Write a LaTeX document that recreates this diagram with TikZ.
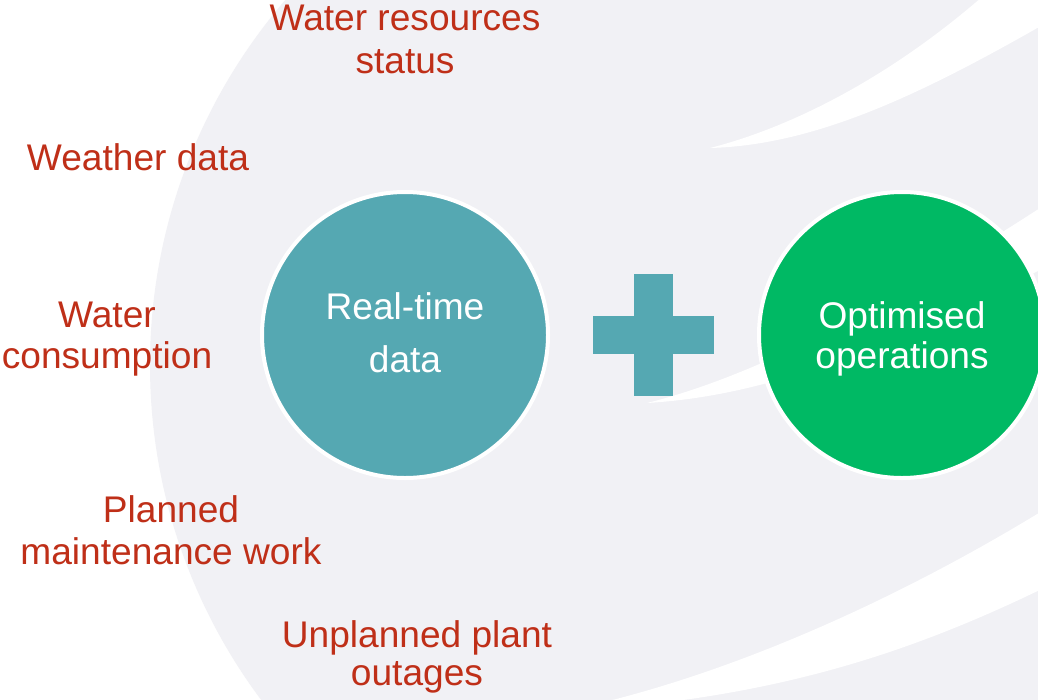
\documentclass[tikz,border=0pt]{standalone}
\usepackage{fontspec}
\setmainfont{Liberation Sans}
\definecolor{bggrey}{HTML}{F1F1F5}
\definecolor{lblred}{HTML}{BF2F18}
\definecolor{tealc}{HTML}{55A8B2}
\definecolor{greenc}{HTML}{00B964}
\begin{document}
\begin{tikzpicture}[x=1pt,y=-1pt,
  lbl/.style={inner sep=0pt, anchor=base, text=lblred, font=\fontsize{37.1}{43}\selectfont},
  inlbl/.style={inner sep=0pt, anchor=base, text=white, font=\fontsize{37.1}{43}\selectfont},
  bigdisc/.style={circle, draw=white, line width=4pt, minimum size=286pt, inner sep=0pt},
  swoosh/.style={fill=white, draw=none}]
\useasboundingbox (0,0) rectangle (1038,699);
\begin{scope}
\clip (0,0) rectangle (1038,699);
\fill[white] (0,0) rectangle (1038,699);
\fill[bggrey] (710,365) circle (560);
% white swooshes
\path[swoosh] (710,148) .. controls (800,125) and (900,70) .. (990,-10) -- (1060,-10) -- (1060,15) .. controls (930,90) and (820,145) .. (710,148) -- cycle;
\path[swoosh] (647,403) .. controls (760,375) and (900,300) .. (1060,195) -- (1060,260) .. controls (900,340) and (780,395) .. (647,403) -- cycle;
\path[swoosh] (560,712) .. controls (720,680) and (900,600) .. (1060,500) -- (1060,580) .. controls (900,660) and (760,700) .. (560,712) -- cycle;
\end{scope}
% plus sign
\fill[tealc] (634,274) rectangle (673,396);
\fill[tealc] (593,316) rectangle (714,354);
% circles
\node[bigdisc, fill=tealc] (rt) at (405,335) {};
\node[bigdisc, fill=greenc] (opt) at (902,335) {};
\node[inlbl] (rt1) at (405,319) {Real-time};
\node[inlbl] (rt2) at (405,372) {data};
\node[inlbl] (op1) at (902,328) {Optimised};
\node[inlbl] (op2) at (902,368) {operations};
% labels
\node[lbl] (wr1) at (405,30) {Water resources};
\node[lbl] (wr2) at (405,73) {status};
\node[lbl] (wd) at (138,170) {Weather data};
\node[lbl] (wc1) at (107,327) {Water};
\node[lbl] (wc2) at (107,368) {consumption};
\node[lbl] (pm1) at (171,522) {Planned};
\node[lbl] (pm2) at (171,564) {maintenance work};
\node[lbl] (up1) at (417,647) {Unplanned plant};
\node[lbl] (up2) at (417,685) {outages};
\end{tikzpicture}
\end{document}
